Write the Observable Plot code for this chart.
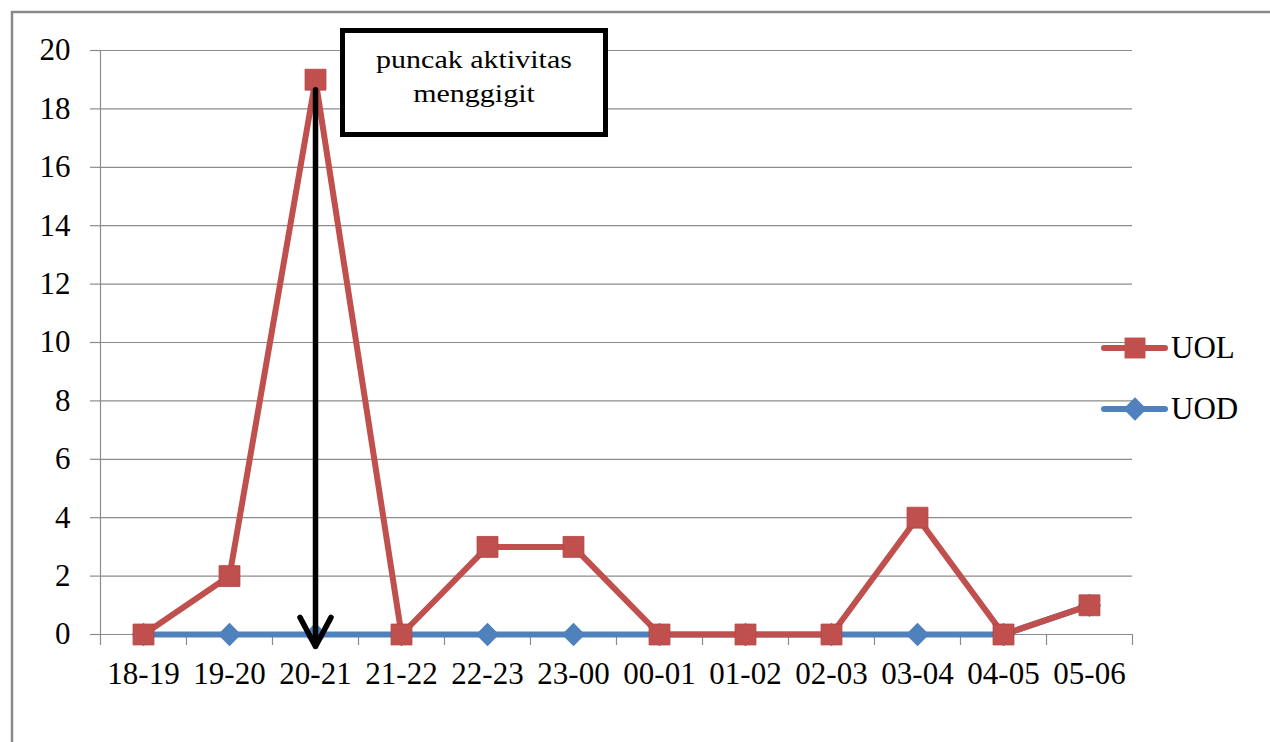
<!DOCTYPE html>
<html><head><meta charset="utf-8">
<script src="https://cdn.jsdelivr.net/npm/d3@7"></script>
<script src="https://cdn.jsdelivr.net/npm/@observablehq/plot@0.6"></script>
<style>
html,body{margin:0;padding:0;background:#fff;}
#chart{position:relative;width:1270px;height:742px;}
</style></head><body><div id="chart"></div>
<script>
const categories = ["18-19","19-20","20-21","21-22","22-23","23-00","00-01","01-02","02-03","03-04","04-05","05-06"];
const uol = [0,2,19,0,3,3,0,0,0,4,0,1];
const uod = [0,0,0,0,0,0,0,0,0,0,0,1];
const yTicks = [0,2,4,6,8,10,12,14,16,18,20];
const seriesNames = ["UOL","UOD"];
const seriesColors = ["#C0504D","#4F81BD"];
const annotationLines = ["puncak aktivitas","menggigit"];
const peak = [{cat:"20-21", from:19, to:0}];

const W = 1270, H = 742, ML = 100, MR = 138, MT = 50, MB = 108;
const bw = (W - ML - MR) / categories.length;
const FONT = "'Liberation Serif','Times New Roman',serif";
const GRID = "#8c8c8c";

const rowsUOL = categories.map((c,i)=>({cat:c, value:uol[i], series:"UOL"}));
const rowsUOD = categories.map((c,i)=>({cat:c, value:uod[i], series:"UOD"}));

const plot = Plot.plot({
  width: W, height: H, marginLeft: ML, marginRight: MR, marginTop: MT, marginBottom: MB,
  style: {fontFamily: FONT, fontSize: "31px", color: "#000", background: "transparent"},
  x: {type: "point", domain: categories, padding: 0.5, label: null},
  y: {domain: [0, 20], label: null},
  color: {domain: seriesNames, range: seriesColors},
  marks: [
    Plot.gridY(yTicks, {stroke: GRID, strokeOpacity: 1, strokeWidth: 1.2}),
    Plot.frame({anchor: "left", stroke: GRID, strokeWidth: 1.2}),
    Plot.axisY({ticks: yTicks, tickSize: 10, tickPadding: 20, stroke: GRID, strokeWidth: 1.2, fontSize: 31, label: null}),
    Plot.axisX({tickSize: 11, tickFormat: () => "", dx: -bw/2, stroke: GRID, strokeWidth: 1.2, label: null}),
    Plot.axisX({ticks: [categories[categories.length-1]], tickSize: 11, tickFormat: () => "", dx: bw/2, stroke: GRID, strokeWidth: 1.2, label: null}),
    Plot.axisX({tickSize: 0, tickPadding: 27, fontSize: 31, label: null}),
    Plot.line(rowsUOD, {x: "cat", y: "value", stroke: "series", strokeWidth: 6}),
    Plot.dot(rowsUOD, {x: "cat", y: "value", fill: "series", symbol: "diamond2", r: 10.5, stroke: null}),
    Plot.line(rowsUOL, {x: "cat", y: "value", stroke: "series", strokeWidth: 6}),
    Plot.dot(rowsUOL, {x: "cat", y: "value", fill: "series", symbol: "square", r: 11.8, stroke: "#b04542", strokeWidth: 0.8}),
    Plot.arrow(peak, {x1: "cat", x2: "cat", y1: "from", y2: "to", stroke: "#000", strokeWidth: 5.5, headLength: 9, headAngle: 56, insetStart: 10, insetEnd: -12})
  ]
});
document.getElementById("chart").appendChild(plot);

const svg = d3.select(plot);
// outer frame (top and left edges)
svg.append("path").attr("d", `M12,${H} V12 H${W}`).attr("fill","none").attr("stroke","#8a8a8a").attr("stroke-width",2.5);

// annotation box
const ann = svg.append("g");
ann.append("rect").attr("x",342.5).attr("y",30.5).attr("width",263).attr("height",104)
  .attr("fill","#fff").attr("stroke","#000").attr("stroke-width",5);
annotationLines.forEach((t,i)=>{
  ann.append("text")
    .attr("transform",`translate(474,${68 + i*34}) scale(1.2,1)`)
    .style("text-anchor","middle").style("font-family",FONT).style("font-size","25px")
    .attr("fill","#000").text(t);
});

// legend
const legendY = [348, 409];
const sym = [d3.symbol(d3.symbolSquare, 11.8*11.8*Math.PI), d3.symbol(d3.symbolDiamond2, 10.5*10.5*Math.PI)];
seriesNames.forEach((name,i)=>{
  const g = svg.append("g").attr("transform",`translate(0,${legendY[i]})`);
  g.append("line").attr("x1",1104).attr("x2",1165).attr("y1",0).attr("y2",0)
    .attr("stroke",seriesColors[i]).attr("stroke-width",6).attr("stroke-linecap","round");
  g.append("path").attr("d",sym[i]()).attr("transform","translate(1135,0)").attr("fill",seriesColors[i]);
  g.append("text").attr("x",1171).attr("y",10)
    .style("text-anchor","start").style("font-family",FONT).style("font-size","31px")
    .attr("fill","#000").text(name);
});
</script>
</body></html>
